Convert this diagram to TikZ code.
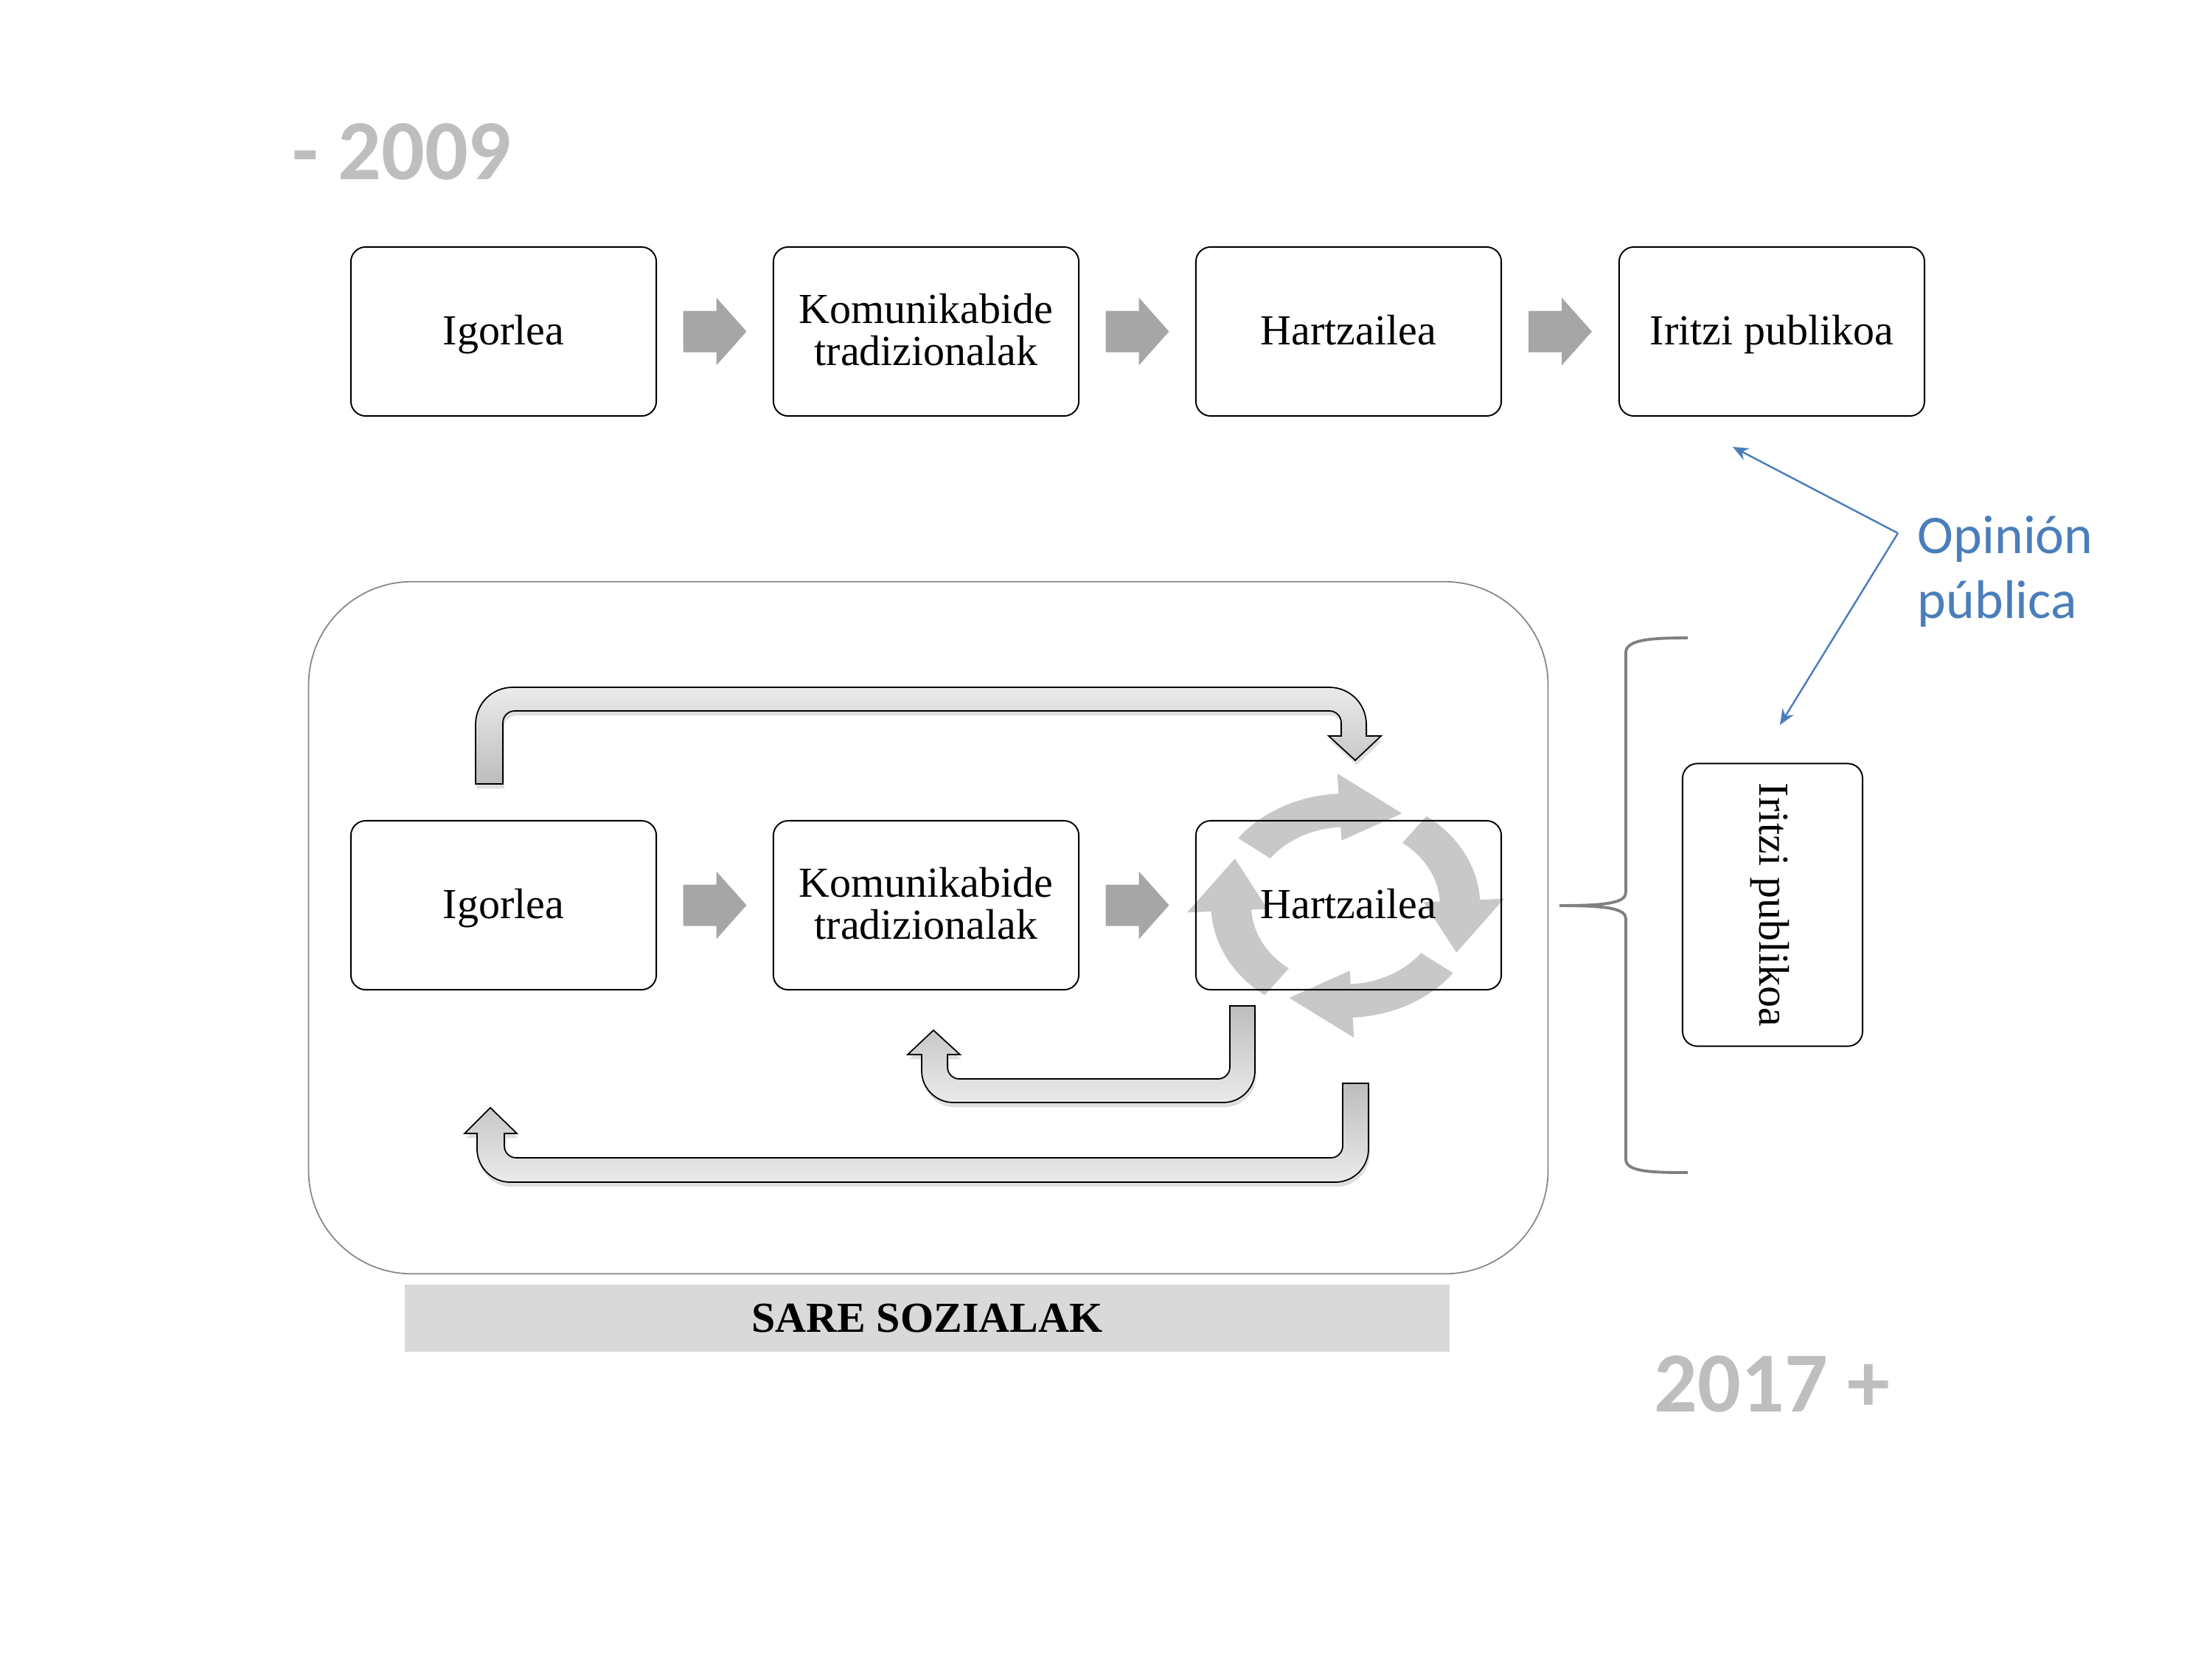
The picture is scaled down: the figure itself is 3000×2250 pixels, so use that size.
\documentclass[tikz,border=0pt]{standalone}
\usepackage{fontspec}
\setmainfont{Liberation Serif}
\newfontfamily\calib{Carlito}
\usetikzlibrary{arrows.meta,shadows,calc}
\definecolor{ringgray}{RGB}{200,200,200}
\definecolor{blockgray}{RGB}{166,166,166}
\definecolor{framegray}{RGB}{135,135,135}
\definecolor{bracegray}{RGB}{128,128,128}
\definecolor{yeargray}{RGB}{190,190,190}
\definecolor{opblue}{RGB}{74,126,187}
\definecolor{barfill}{RGB}{217,217,217}
\tikzset{
  stagebox/.style={draw=black, line width=0.55pt, rounded corners=0.2cm,
    minimum width=4.14cm, minimum height=2.29cm, inner sep=0pt, align=center,
    font=\fontsize{16.5}{16}\selectfont},
  oneline/.style={text height=13pt, text depth=3pt},
  barrow/.pic={\fill[blockgray] (-43,-28) -- (2,-28) -- (2,-46) -- (43,0) -- (2,46) -- (2,28) -- (-43,28) -- cycle;},
  uarrowdown/.style={draw=black, line width=0.5pt, top color=gray!16, bottom color=gray!52,
    drop shadow={opacity=0.25, shadow xshift=0.5pt, shadow yshift=-1.8pt}},
  uarrowup/.style={draw=black, line width=0.5pt, top color=gray!52, bottom color=gray!16,
    drop shadow={opacity=0.25, shadow xshift=0.5pt, shadow yshift=-1.8pt}},
  yeartext/.style={inner sep=0pt, anchor=base west, text=yeargray,
    font=\calib\bfseries\fontsize{33}{33}\selectfont},
  opline/.style={draw=opblue, line width=0.7pt, -{Stealth[length=6pt,width=5pt]}},
}
\begin{document}
\begin{tikzpicture}[x=0.01cm, y=-0.01cm]
\useasboundingbox (0,0) rectangle (3000,2250);

% year labels
\node[yeartext] (y1) at (396,243) {- 2009};
\node[yeartext] (y2) at (2243,1914) {2017 +};

% top row
\node[stagebox, oneline] (ig1) at (683,449.5) {Igorlea};
\node[stagebox] (ko1) at (1256,449.5) {Komunikabide\\tradizionalak\rule[-1.5pt]{0pt}{1.5pt}};
\node[stagebox, oneline] (ha1) at (1829,449.5) {Hartzailea};
\node[stagebox, oneline] (ir1) at (2403,449.5) {Iritzi publikoa};
\pic at ($(ig1.east)!0.5!(ko1.west)$) {barrow};
\pic at ($(ko1.east)!0.5!(ha1.west)$) {barrow};
\pic at ($(ha1.east)!0.5!(ir1.west)$) {barrow};

% social network frame
\node[draw=framegray, line width=0.5pt, rounded corners=1.4cm, fill=white,
  minimum width=16.8cm, minimum height=9.38cm] (sn) at (1259,1258) {};
\node[fill=barfill, minimum width=14.17cm, minimum height=0.91cm, inner sep=0pt,
  font=\bfseries\fontsize{16.5}{16}\selectfont] (ss) at (1257.5,1787.5) {SARE SOZIALAK};

% cycle arrows around Hartzailea
\foreach \t in {93,3,-87,-177}{
  \fill[ringgray]
    plot[domain=0:50, samples=25] ({1825+182.5*cos(\t+50-\x)},{1228-152*sin(\t+50-\x)})
    -- ({1825+215.3*cos(\t)},{1228-179.4*sin(\t)})
    -- ({1825+168.5*cos(\t-30)},{1228-140.4*sin(\t-30)})
    -- ({1825+106.1*cos(\t)},{1228-88.4*sin(\t)})
    -- plot[domain=0:50, samples=25] ({1825+128*cos(\t+\x)},{1228-106.6*sin(\t+\x)})
    -- cycle;
}

% bottom row
\node[stagebox, oneline] (ig2) at (683,1227.5) {Igorlea};
\node[stagebox] (ko2) at (1256,1227.5) {Komunikabide\\tradizionalak\rule[-1.5pt]{0pt}{1.5pt}};
\node[stagebox, oneline] (ha2) at (1829,1227.5) {Hartzailea};
\pic at ($(ig2.east)!0.5!(ko2.west)$) {barrow};
\pic at ($(ko2.east)!0.5!(ha2.west)$) {barrow};

% U-turn arrows
\draw[uarrowdown] (645,1063) -- (645,982)
  .. controls (645,954.4) and (667.4,932) .. (695,932) -- (1803,932)
  .. controls (1830.6,932) and (1853,954.4) .. (1853,982) -- (1853,998)
  -- (1873,998) -- (1838,1031) -- (1802,998) -- (1819,998) -- (1819,980)
  .. controls (1819,971.2) and (1811.8,964) .. (1803,964) -- (698,964)
  .. controls (689.2,964) and (682,971.2) .. (682,980) -- (682,1063) -- cycle;
\draw[uarrowup] (1702,1364) -- (1702,1452)
  .. controls (1702,1475.7) and (1682.7,1495) .. (1659,1495) -- (1293,1495)
  .. controls (1269.3,1495) and (1250,1475.7) .. (1250,1452) -- (1250,1430)
  -- (1231,1430) -- (1266,1397) -- (1302,1430) -- (1285,1430) -- (1285,1447)
  .. controls (1285,1455.8) and (1292.2,1463) .. (1301,1463) -- (1652,1463)
  .. controls (1660.8,1463) and (1668,1455.8) .. (1668,1447) -- (1668,1364) -- cycle;
\draw[uarrowup] (1856,1469) -- (1856,1558)
  .. controls (1856,1582.8) and (1835.8,1603) .. (1811,1603) -- (692,1603)
  .. controls (667.2,1603) and (647,1582.8) .. (647,1558) -- (647,1537)
  -- (630,1537) -- (665,1502) -- (701,1537) -- (684,1537) -- (684,1554)
  .. controls (684,1562.8) and (691.2,1570) .. (700,1570) -- (1805,1570)
  .. controls (1813.8,1570) and (1821,1562.8) .. (1821,1554) -- (1821,1469) -- cycle;

% public opinion (vertical box) and brace
\node[stagebox, oneline, rotate=-90, minimum width=3.83cm, minimum height=2.44cm] (ir2) at (2404,1227) {Iritzi publikoa};
\draw[bracegray, line width=1.1pt] (2289,865) .. controls (2240,865) and (2205,867) .. (2205,885)
  -- (2205,1210) .. controls (2205,1224) and (2180,1228) .. (2115,1228)
  .. controls (2180,1228) and (2205,1232) .. (2205,1246)
  -- (2205,1572) .. controls (2205,1589) and (2240,1590) .. (2289,1590);

% Opinion publica label
\node[anchor=base west, inner sep=0pt, align=left, text=opblue,
  font=\calib\fontsize{21}{24.8}\selectfont] (op) at (2600,838) {Opinión\\pública};
\coordinate (opv) at (2574,723);
\coordinate (opt1) at (2350,606);
\coordinate (opt2) at (2414,983);
\draw[opline] (opv) -- (opt1);
\draw[opline] (opv) -- (opt2);
\end{tikzpicture}
\end{document}
